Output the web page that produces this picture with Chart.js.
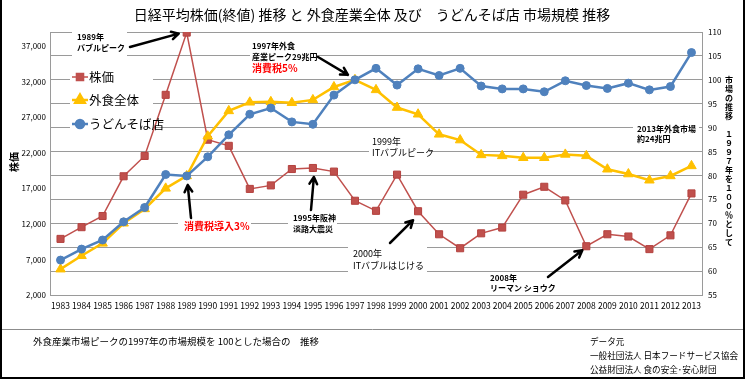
<!DOCTYPE html>
<html>
<head>
    <meta charset="utf-8">
    <script src="https://cdn.jsdelivr.net/npm/chart.js@4.4.0/dist/chart.umd.min.js"></script>
    <title>日経平均株価と外食産業市場規模</title>
    <style>
        html, body { margin: 0; padding: 0; background: #fff; }
        #wrap { width: 745px; height: 379px; }
    </style>
</head>
<body>
<div id="wrap"><canvas id="chart"></canvas></div>
<script>
// データ
const years = ['1983','1984','1985','1986','1987','1988','1989','1990','1991','1992',
    '1993','1994','1995','1996','1997','1998','1999','2000','2001','2002',
    '2003','2004','2005','2006','2007','2008','2009','2010','2011','2012','2013'];

// 日経平均株価 (終値, 円)
const nikkei = [9893, 11542, 13113, 18701, 21564, 30159, 38916, 23849, 22984, 16925,
    17417, 19723, 19868, 19361, 15259, 13842, 18934, 13786, 10543, 8579,
    10677, 11489, 16111, 17226, 15308, 8860, 10546, 10229, 8455, 10395, 16291];

// 外食全体 (1997年 = 100)
const gaishoku = [60.4, 63.2, 65.8, 70.0, 73.0, 77.3, 79.9, 88.2, 93.5, 95.3,
    95.4, 95.2, 95.8, 98.5, 100, 97.9, 94.2, 92.8, 88.6, 87.4,
    84.3, 84.1, 83.7, 83.7, 84.4, 84.1, 81.3, 80.3, 79.0, 79.9, 82.0];

// うどんそば店 (1997年 = 100)
const udon = [62.3, 64.6, 66.5, 70.3, 73.3, 80.2, 79.9, 83.9, 88.5, 92.8,
    94.1, 91.2, 90.7, 96.8, 100, 102.4, 98.9, 102.3, 100.9, 102.4,
    98.7, 98.1, 98.1, 97.5, 99.8, 98.8, 98.2, 99.3, 97.9, 98.6, 105.7];

const seriesNames = ['株価', '外食全体', 'うどんそば店'];
const leftTicks = [2000, 7000, 12000, 17000, 22000, 27000, 32000, 37000];

const JP = '"Noto Sans CJK JP", sans-serif';
const RED = '#C0504D', YELLOW = '#FFC000', BLUE = '#4F81BD';

// 注記 (text boxes)
const notes = [
    { lines: ['1989年', 'バブルピーク'], x: 77, ys: [37, 48], font: 'bold 8px ' + JP, color: '#000', box: [72, 30, 55, 28] },
    { lines: ['1997年外食', '産業ピーク29兆円'], x: 252, ys: [46, 57], font: 'bold 8px ' + JP, color: '#000', box: [250, 40, 67, 34] },
    { lines: ['消費税5%'], x: 252, ys: [68], font: 'bold 10px ' + JP, color: '#FF0000' },
    { lines: ['1999年', 'ITバブルピーク'], x: 372, ys: [142, 153], font: '9px ' + JP, color: '#000', box: [369, 135, 60, 25] },
    { lines: ['1995年阪神', '淡路大震災'], x: 293, ys: [218, 229], font: 'bold 8px ' + JP, color: '#000', box: [288, 211, 49, 26] },
    { lines: ['2000年', 'ITバブルはじける'], x: 353, ys: [254, 266], font: '9px ' + JP, color: '#000', box: [348, 245, 79, 30] },
    { lines: ['消費税導入3%'], x: 184, ys: [226], font: 'bold 10px ' + JP, color: '#FF0000', box: [178, 216, 73, 18] },
    { lines: ['2008年', 'リーマン ショウク'], x: 490, ys: [278, 288], font: 'bold 8px ' + JP, color: '#000' },
    { lines: ['2013年外食市場', '約24兆円'], x: 637, ys: [129, 139], font: 'bold 8px ' + JP, color: '#000', box: [633, 121, 66, 25] }
];

// 矢印: tail fixed, head near the data point (dataset, index, dx, dy)
const arrows = [
    { tail: [130, 47], ds: 0, idx: 6, dx: -8, dy: 1 },
    { tail: [318, 57], ds: 2, idx: 14, dx: -7, dy: -5 },
    { tail: [311, 210], ds: 0, idx: 12, dx: 1, dy: 9 },
    { tail: [390, 243], ds: 0, idx: 17, dx: -5, dy: 9 },
    { tail: [191, 218], ds: 2, idx: 6, dx: 1, dy: 9 },
    { tail: [548, 277], ds: 0, idx: 25, dx: -4, dy: 4 }
];

function drawArrow(ctx, x1, y1, x2, y2) {
    const a = Math.atan2(y2 - y1, x2 - x1);
    const L = 8;
    ctx.save();
    ctx.strokeStyle = '#000';
    ctx.lineWidth = 2.5;
    ctx.lineCap = 'round';
    ctx.lineJoin = 'round';
    ctx.beginPath();
    ctx.moveTo(x1, y1);
    ctx.lineTo(x2, y2);
    ctx.moveTo(x2 - L * Math.cos(a - 0.5), y2 - L * Math.sin(a - 0.5));
    ctx.lineTo(x2, y2);
    ctx.lineTo(x2 - L * Math.cos(a + 0.5), y2 - L * Math.sin(a + 0.5));
    ctx.stroke();
    ctx.restore();
}

const decor = {
    id: 'decor',
    beforeDraw(chart) {
        const ctx = chart.ctx;
        ctx.save();
        ctx.fillStyle = '#fff';
        ctx.fillRect(0, 0, chart.width, chart.height);
        ctx.restore();
    },
    beforeDatasetsDraw(chart) {
        const ctx = chart.ctx;
        ctx.save();
        ctx.fillStyle = '#fff';
        // legend box
        ctx.fillRect(70, 62, 83, 76);
        notes.forEach(n => { if (n.box) ctx.fillRect(n.box[0], n.box[1], n.box[2], n.box[3]); });
        ctx.restore();
    },
    afterDatasetsDraw(chart) {
        const ctx = chart.ctx;
        ctx.save();
        // legend
        const rows = [77, 100, 124];
        const cols = [RED, YELLOW, BLUE];
        const styles = ['rect', 'triangle', 'circle'];
        const widths = [1.5, 2.5, 2.5];
        const radii = [5, 5.5, 4];
        rows.forEach((y, i) => {
            ctx.strokeStyle = cols[i];
            ctx.lineWidth = widths[i];
            ctx.beginPath();
            ctx.moveTo(72, y);
            ctx.lineTo(88, y);
            ctx.stroke();
            ctx.fillStyle = cols[i];
            Chart.helpers.drawPoint(ctx, { pointStyle: styles[i], radius: radii[i], borderWidth: 1 }, 80, y);
            ctx.fill();
            ctx.fillStyle = '#000';
            ctx.font = '12.5px ' + JP;
            ctx.textAlign = 'left';
            ctx.textBaseline = 'middle';
            ctx.fillText(seriesNames[i], 89, y);
        });
        // notes
        notes.forEach(n => {
            ctx.font = n.font;
            ctx.fillStyle = n.color;
            ctx.textAlign = 'left';
            ctx.textBaseline = 'middle';
            n.lines.forEach((t, k) => ctx.fillText(t, n.x, n.ys[k]));
        });
        // arrows
        arrows.forEach(a => {
            const p = chart.getDatasetMeta(a.ds).data[a.idx];
            drawArrow(ctx, a.tail[0], a.tail[1], p.x + a.dx, p.y + a.dy);
        });
        ctx.restore();
    },
    afterDraw(chart) {
        const ctx = chart.ctx;
        ctx.save();
        // title
        ctx.fillStyle = '#000';
        ctx.font = '14px ' + JP;
        ctx.textAlign = 'center';
        ctx.textBaseline = 'middle';
        ctx.fillText('日経平均株価(終値) 推移 と 外食産業全体 及び　うどんそば店 市場規模 推移', 372, 15);
        // left axis title
        ctx.save();
        ctx.translate(14, 162);
        ctx.rotate(-Math.PI / 2);
        ctx.font = 'bold 10px ' + JP;
        ctx.fillText('株価', 0, 0);
        ctx.restore();
        // right axis title (vertical, one char per row)
        const rt = '市場の推移 １９９７年を１００％として';
        ctx.font = 'bold 8px ' + JP;
        [...rt].forEach((c, i) => ctx.fillText(c, 729, 80 + i * 9));
        // separator
        ctx.strokeStyle = '#8c8c8c';
        ctx.lineWidth = 1;
        ctx.beginPath();
        ctx.moveTo(0, 329.5);
        ctx.lineTo(745, 329.5);
        ctx.stroke();
        // bottom notes
        ctx.textAlign = 'left';
        ctx.font = '9.5px ' + JP;
        ctx.fillText('外食産業市場ピークの1997年の市場規模を 100とした場合の　推移', 33, 341);
        ctx.font = '8.6px ' + JP;
        ctx.fillText('データ元', 590, 342);
        ctx.fillText('一般社団法人 日本フードサービス協会', 590, 356);
        ctx.fillText('公益財団法人 食の安全･安心財団', 590, 370);
        // outer frame
        ctx.fillStyle = '#000';
        ctx.fillRect(0, 0, 2, 379);
        ctx.fillRect(743, 0, 2, 379);
        ctx.fillRect(0, 377, 745, 2);
        ctx.restore();
    }
};

new Chart(document.getElementById('chart'), {
    type: 'line',
    data: {
        labels: years,
        datasets: [
            {
                label: seriesNames[0], data: nikkei, yAxisID: 'y', order: 3,
                borderColor: RED, borderWidth: 1.5, backgroundColor: RED,
                pointStyle: 'rect', pointRadius: 5, pointBorderColor: '#B4423F', pointBorderWidth: 1
            },
            {
                label: seriesNames[1], data: gaishoku, yAxisID: 'y1', order: 2,
                borderColor: YELLOW, borderWidth: 2.5, backgroundColor: YELLOW,
                pointStyle: 'triangle', pointRadius: 5.5, pointBorderColor: YELLOW, pointBorderWidth: 1
            },
            {
                label: seriesNames[2], data: udon, yAxisID: 'y1', order: 1,
                borderColor: BLUE, borderWidth: 2.5, backgroundColor: BLUE,
                pointStyle: 'circle', pointRadius: 4, pointBorderColor: BLUE, pointBorderWidth: 1
            }
        ]
    },
    options: {
        responsive: true,
        maintainAspectRatio: false,
        animation: false,
        devicePixelRatio: 1,
        layout: { padding: { top: 32, left: 0, right: 0, bottom: 0 } },
        plugins: { legend: { display: false }, title: { display: false }, tooltip: { enabled: false } },
        elements: { line: { tension: 0 } },
        scales: {
            x: {
                offset: true,
                grid: { display: false, drawTicks: false },
                border: { display: true, color: '#9a9a9a' },
                ticks: { font: { size: 8.5, family: JP }, color: '#000', padding: 6, maxRotation: 0, autoSkip: false },
                afterFit(scale) { scale.height = 84; }
            },
            y: {
                position: 'left',
                min: 2000,
                max: 39000,
                grid: { drawOnChartArea: false, drawTicks: false },
                border: { display: true, color: '#9a9a9a' },
                ticks: {
                    font: { size: 8, family: JP }, color: '#000', padding: 4,
                    callback: v => v.toLocaleString('en-US')
                },
                afterBuildTicks(scale) { scale.ticks = leftTicks.map(v => ({ value: v })); },
                afterFit(scale) { scale.width = 50; }
            },
            y1: {
                position: 'right',
                min: 55,
                max: 110,
                grid: { color: '#9a9a9a', drawTicks: false },
                border: { display: true, color: '#9a9a9a' },
                ticks: { stepSize: 5, font: { size: 8, family: JP }, color: '#000', padding: 6 },
                afterFit(scale) { scale.width = 43; }
            }
        }
    },
    plugins: [decor]
});
</script>
</body>
</html>
